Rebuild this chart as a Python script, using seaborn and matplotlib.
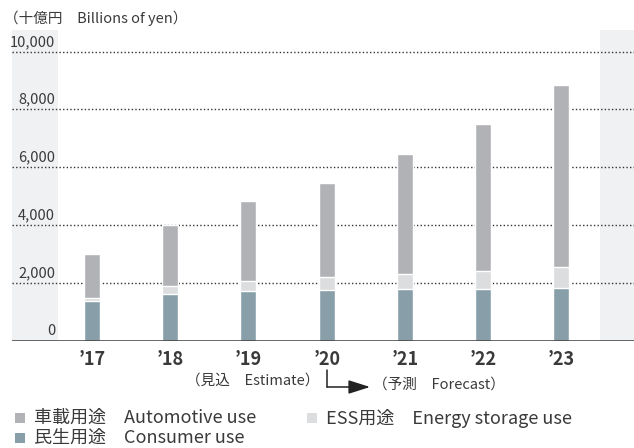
import numpy as np
import pandas as pd
import matplotlib
matplotlib.use("Agg")
import matplotlib.pyplot as plt
import seaborn as sns
from matplotlib.patches import Rectangle
from matplotlib.lines import Line2D

# --- data (billions of yen) ---
years = ["’17", "’18", "’19", "’20", "’21", "’22", "’23"]
consumer = [1370, 1610, 1710, 1750, 1780, 1790, 1830]
ess = [100, 280, 350, 450, 520, 620, 720]
automotive = [1530, 2110, 2770, 3250, 4150, 5070, 6280]
y_ticks = [0, 2000, 4000, 6000, 8000, 10000]

df = pd.DataFrame({"year": years, "consumer": consumer, "ess": ess, "automotive": automotive})
df["ess_top"] = df["consumer"] + df["ess"]
df["total"] = df["ess_top"] + df["automotive"]

c_auto = "#b1b2b6"
c_ess = "#dcdddf"
c_cons = "#889ea8"
c_panel = "#f0f1f3"
c_text = "#3a3a3a"

sns.set_theme(style="white")
plt.rcParams["font.family"] = ["Noto Sans CJK JP", "DejaVu Sans"]

W, H = 634, 448
fig = plt.figure(figsize=(W / 100, H / 100), dpi=100)
ax = fig.add_axes([12 / W, (H - 340.5) / H, 622 / W, (340.5 - 30) / H])

# stacked bars: draw cumulative tops from largest to smallest
sns.barplot(data=df, x="year", y="total", color=c_auto, width=0.205, saturation=1,
            errorbar=None, ax=ax, zorder=3)
sns.barplot(data=df, x="year", y="ess_top", color=c_ess, width=0.205, saturation=1,
            errorbar=None, ax=ax, zorder=3)
sns.barplot(data=df, x="year", y="consumer", color=c_cons, width=0.205, saturation=1,
            errorbar=None, ax=ax, zorder=3)

x0, x1 = -1.023, 6.93
ax.set_xlim(x0, x1)
ax.set_ylim(0, 10750)
ax.axvspan(x0, -0.435, color=c_panel, zorder=0, lw=0)
ax.axvspan(6.496, x1, color=c_panel, zorder=0, lw=0)

for v in y_ticks[1:]:
    ax.axhline(v, color="#333333", lw=1.0, ls=(0, (1, 1.6)), zorder=1)
ax.axhline(0, color="#3a3a3a", lw=1.8, zorder=4)

for v in y_ticks:
    ax.annotate(f"{v:,}", xy=(-0.47, v), xytext=(0, 2), textcoords="offset points",
                ha="right", va="bottom", fontsize=10.5, color=c_text)

for s in ax.spines.values():
    s.set_visible(False)
ax.set_yticks([])
ax.set_xlabel("")
ax.set_ylabel("")
ax.set_xticks(range(len(years)))
ax.set_xticklabels(years, fontsize=13, fontweight="semibold", color=c_text)
ax.tick_params(axis="x", length=0, pad=7)

# unit label
fig.text(4 / W, 1 - 18 / H, "（十億円　Billions of yen）", fontsize=10.5, color=c_text,
         ha="left", va="center")

# estimate / forecast note
ax.annotate("（見込　Estimate）", xy=(2.05, H - 381), xycoords=("data", "figure pixels"),
            ha="center", va="center", fontsize=10.5, color=c_text)
ax.annotate("（予測　Forecast）", xy=(3.59, H - 385), xycoords=("data", "figure pixels"),
            ha="left", va="center", fontsize=10.5, color=c_text)
fig.add_artist(Line2D([327 / W, 327 / W], [(H - 370) / H, (H - 387) / H],
                      color="#222222", lw=1.1))
ax.annotate("", xy=(370, H - 387), xytext=(327, H - 387), xycoords="figure pixels",
            arrowprops=dict(arrowstyle="-|>,head_length=1.1,head_width=0.35",
                            color="#222222", lw=1.1, shrinkA=0, shrinkB=0))

# legend
legend_items = [
    ("車載用途　Automotive use", c_auto, 15, 418),
    ("ESS用途　Energy storage use", c_ess, 307, 418),
    ("民生用途　Consumer use", c_cons, 15, 438),
]
for label, col, lx, ly in legend_items:
    fig.add_artist(Rectangle((lx / W, (H - ly - 5) / H), 10 / W, 10 / H,
                             transform=fig.transFigure, color=col, lw=0))
    fig.text((lx + 19) / W, (H - ly) / H, label, fontsize=13, color=c_text,
             ha="left", va="center")

fig.savefig("out.png", dpi=100)
